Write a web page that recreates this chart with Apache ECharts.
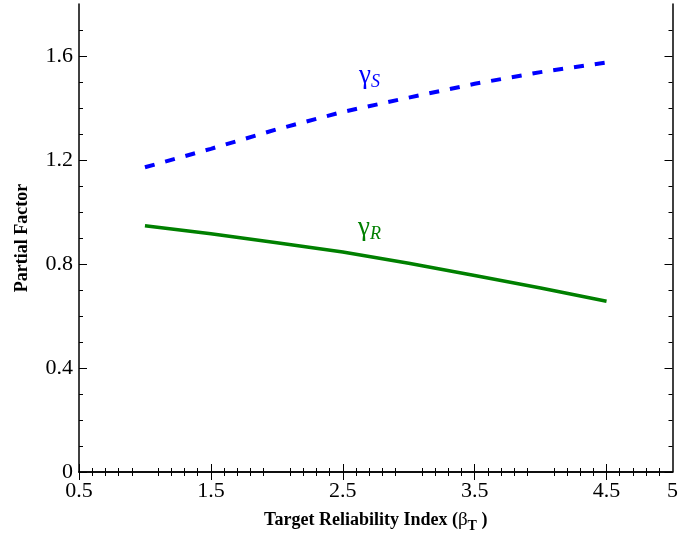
<!DOCTYPE html>
<html><head><meta charset="utf-8">
<script src="https://cdn.jsdelivr.net/npm/echarts@6/dist/echarts.min.js"></script>
<style>html,body{margin:0;padding:0;background:#fff}#c{width:681px;height:538px}</style>
</head><body><div id="c"></div>
<script>
const betaT = [1.0, 1.5, 2.0, 2.5, 3.0, 3.5, 4.0, 4.5];
const gammaS = [1.172, 1.243, 1.318, 1.385, 1.44, 1.493, 1.538, 1.575];
const gammaR = [0.947, 0.916, 0.882, 0.846, 0.803, 0.756, 0.708, 0.657];
const xTickLabels = [0.5, 1.5, 2.5, 3.5, 4.5, 5];
const xMajorTicks = [0.5, 1.5, 2.5, 3.5, 4.5];
const yTickLabels = [0, 0.4, 0.8, 1.2, 1.6];

const serif = 'Liberation Serif';
const chart = echarts.init(document.getElementById('c'));
const axisLine = {show: true, lineStyle: {color: '#000', width: 1.5}};
const tickStyle = {color: '#000', width: 1};
function xAxis(pos, show) {
  return {
    type: 'value', position: pos, min: 0.5, max: 5, interval: 0.5,
    axisLine: axisLine,
    axisTick: {show: true, inside: true, length: 8, lineStyle: tickStyle, customValues: xMajorTicks},
    minorTick: {show: true, splitNumber: 5, length: 4, lineStyle: tickStyle},
    splitLine: {show: false}, minorSplitLine: {show: false},
    axisLabel: show ? {show: true, customValues: xTickLabels, fontFamily: serif, fontSize: 22, color: '#000', margin: 8,
      formatter: v => String(v)} : {show: false},
    name: show ? '{b|Target Reliability Index (}{g|β}{sub|T}{b| )}' : '',
    nameLocation: 'middle', nameGap: 35,
    nameTextStyle: {rich: {
      b: {fontFamily: serif, fontWeight: 'bold', fontSize: 18, color: '#000'},
      g: {fontFamily: serif, fontSize: 19, color: '#000'},
      sub: {fontFamily: serif, fontWeight: 'bold', fontSize: 14, color: '#000', padding: [12, 0, 0, 0]}
    }}
  };
}
function yAxis(pos, show) {
  return {
    type: 'value', position: pos, min: 0, max: 1.8, interval: 0.4,
    axisLine: axisLine,
    axisTick: {show: true, inside: true, length: 8, lineStyle: tickStyle, customValues: yTickLabels},
    minorTick: {show: true, splitNumber: 4, length: 4, lineStyle: tickStyle},
    splitLine: {show: false}, minorSplitLine: {show: false},
    axisLabel: show ? {show: true, customValues: yTickLabels, fontFamily: serif, fontSize: 22, color: '#000', margin: 6,
      formatter: v => String(v)} : {show: false},
    name: show ? 'Partial Factor' : '',
    nameLocation: 'middle', nameGap: 48, nameRotate: 90,
    nameTextStyle: {fontFamily: serif, fontWeight: 'bold', fontSize: 18, color: '#000'}
  };
}
chart.setOption({
  animation: false,
  backgroundColor: '#fff',
  grid: {left: 79, right: 6, top: 4, bottom: 65, containLabel: false},
  xAxis: [xAxis('bottom', true), xAxis('top', false)],
  yAxis: [yAxis('left', true), yAxis('right', false)],
  series: [
    {type: 'line', data: betaT.map((x, i) => [x, gammaS[i]]), showSymbol: false, smooth: false,
     lineStyle: {color: '#0000ff', width: 4, type: [10, 11], cap: 'butt'}},
    {type: 'line', data: betaT.map((x, i) => [x, gammaR[i]]), showSymbol: false, smooth: false,
     lineStyle: {color: '#008000', width: 3.5}}
  ],
  graphic: [
    {type: 'text', left: 359, top: 62, style: {text: '{g|γ}{s|S}', rich: {
      g: {fontFamily: serif, fontSize: 27, fill: '#0000ff'},
      s: {fontFamily: serif, fontSize: 18, fontStyle: 'italic', fill: '#0000ff', padding: [13, 0, 0, 0]}}}},
    {type: 'text', left: 358, top: 214, style: {text: '{g|γ}{s|R}', rich: {
      g: {fontFamily: serif, fontSize: 27, fill: '#008000'},
      s: {fontFamily: serif, fontSize: 18, fontStyle: 'italic', fill: '#008000', padding: [13, 0, 0, 0]}}}}
  ]
});
</script></body></html>
